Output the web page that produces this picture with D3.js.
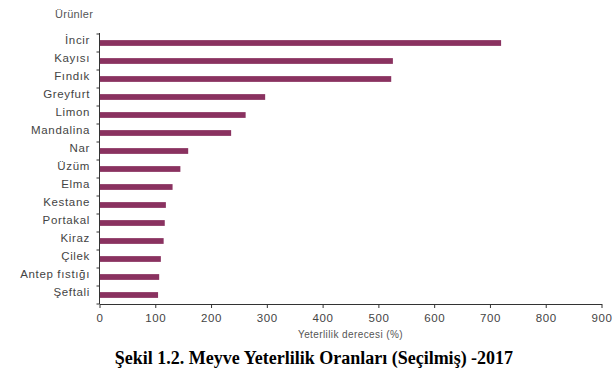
<!DOCTYPE html>
<html>
<head>
<meta charset="utf-8">
<script src="https://cdn.jsdelivr.net/npm/d3@7"></script>
<style>
    body { margin: 0; background: #fff; }
    text { font-family: "Liberation Sans", Arial, sans-serif; }
</style>
</head>
<body>
<script>
const products = ["İncir", "Kayısı", "Fındık", "Greyfurt", "Limon", "Mandalina", "Nar", "Üzüm", "Elma", "Kestane", "Portakal", "Kiraz", "Çilek", "Antep fıstığı", "Şeftali"];
const ratios = [720, 526, 523, 297, 262, 236, 159, 145, 131, 119, 117, 115, 110, 107, 105];
const xTicks = [0, 100, 200, 300, 400, 500, 600, 700, 800, 900];

const width = 613;
const height = 377;
const plotLeft = 99.5;
const plotRight = 601.5;
const plotTop = 34;
const plotBottom = 304;
const barColor = "#8a3260";

const data = products.map((p, i) => ({ name: p, value: ratios[i] }));

const svg = d3.select("body")
    .append("svg")
    .attr("width", width)
    .attr("height", height);

const xScale = d3.scaleLinear()
    .domain([0, 900])
    .range([plotLeft, plotRight]);

const yScale = d3.scaleBand()
    .domain(products)
    .range([plotTop, plotBottom])
    .paddingInner(0.68)
    .paddingOuter(0.34);

// bars
svg.selectAll("rect.bar")
    .data(data)
    .enter()
    .append("rect")
    .attr("class", "bar")
    .attr("x", xScale(0))
    .attr("y", d => yScale(d.name))
    .attr("width", d => xScale(d.value) - xScale(0))
    .attr("height", yScale.bandwidth())
    .attr("fill", barColor);

// x axis
const xAxis = d3.axisBottom(xScale)
    .tickValues(xTicks)
    .tickSize(4)
    .tickSizeOuter(0);

const gx = svg.append("g")
    .attr("transform", `translate(0, ${plotBottom})`)
    .call(xAxis);
gx.select(".domain").attr("stroke", "#333");
gx.selectAll(".tick line").attr("stroke", "#333");
gx.selectAll(".tick text")
    .attr("fill", "#444")
    .attr("dy", "0.95em")
    .style("font-size", "11.5px")
    .style("letter-spacing", "0.6px");

// y axis: ticks sit on the band edges
const bandEdges = products.map(p => yScale(p) - yScale.step() * yScale.paddingInner() / 2);
bandEdges.push(plotBottom);

svg.append("line")
    .attr("x1", plotLeft).attr("x2", plotLeft)
    .attr("y1", plotTop - 1).attr("y2", plotBottom)
    .attr("stroke", "#333");

svg.selectAll("line.ytick")
    .data(bandEdges)
    .enter()
    .append("line")
    .attr("class", "ytick")
    .attr("x1", plotLeft - 3).attr("x2", plotLeft)
    .attr("y1", d => d).attr("y2", d => d)
    .attr("stroke", "#333");

svg.selectAll("text.ylabel")
    .data(products)
    .enter()
    .append("text")
    .attr("class", "ylabel")
    .attr("x", 90)
    .attr("y", d => yScale(d) + yScale.bandwidth() / 2 - 3)
    .attr("dy", "0.35em")
    .attr("text-anchor", "end")
    .attr("fill", "#444")
    .style("font-size", "11.5px")
    .style("letter-spacing", "0.65px")
    .text(d => d);

svg.append("text")
    .attr("x", 55)
    .attr("y", 18)
    .attr("fill", "#555")
    .style("font-size", "11px")
    .style("letter-spacing", "0.3px")
    .text("Ürünler");

svg.append("text")
    .attr("x", (plotLeft + plotRight) / 2)
    .attr("y", 338)
    .attr("text-anchor", "middle")
    .attr("fill", "#555")
    .style("font-size", "10px")
    .style("letter-spacing", "0.4px")
    .text("Yeterlilik derecesi (%)");

svg.append("text")
    .attr("x", 314)
    .attr("y", 364)
    .attr("text-anchor", "middle")
    .attr("fill", "#000")
    .style("font-family", "'Liberation Serif', 'Times New Roman', serif")
    .style("font-weight", "bold")
    .style("font-size", "18px")
    .text("Şekil 1.2. Meyve Yeterlilik Oranları (Seçilmiş) -2017");
</script>
</body>
</html>
